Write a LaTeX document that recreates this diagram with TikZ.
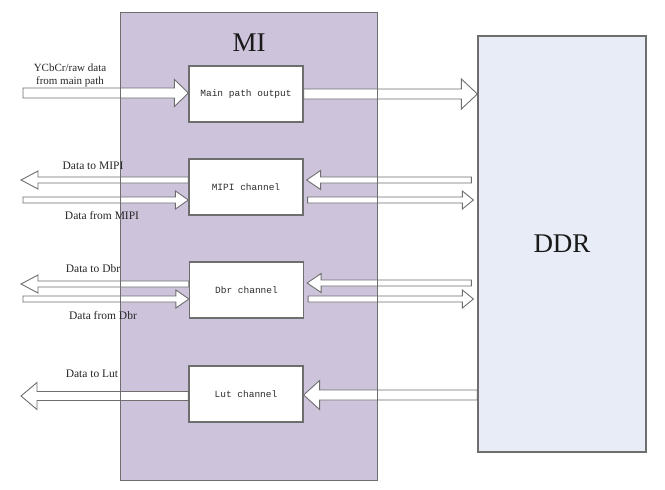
\documentclass[tikz,border=0pt]{standalone}
\usepackage{fontspec}
\setmainfont{Liberation Serif}
\newfontfamily\blockfont{Liberation Mono}
\usetikzlibrary{calc}

\definecolor{miFill}{RGB}{205,196,220}
\definecolor{ddrFill}{RGB}{232,236,246}
\definecolor{edgeGray}{RGB}{110,110,110}
\definecolor{textGray}{RGB}{45,45,45}

\tikzset{
  unitbox/.style={draw=edgeGray, line width=1.2pt, fill=white,
    minimum width=114pt, minimum height=56pt, inner sep=0pt,
    font=\blockfont\fontsize{9.5}{11}\selectfont, text=textGray},
  fatarrow/.style={draw=edgeGray, line width=0.9pt, fill=white, line join=miter},
  lbl/.style={font=\fontsize{11.5}{13}\selectfont, inner sep=0pt, text=black!85},
  bigtitle/.style={font=\fontsize{27}{30}\selectfont, inner sep=0pt, text=black!90},
}

% horizontal block arrow: tail, tip, half shaft width, half head width, head length
\newcommand\fatarrow[5]{%
  \draw[fatarrow] let \p1=(#1), \p2=(#2), \n1={#5*(2*(\x2>\x1)-1)} in
    (\x1,\y1+#3) -- (\x2-\n1*1pt,\y1+#3) -- (\x2-\n1*1pt,\y1+#4) -- (\x2,\y1)
    -- (\x2-\n1*1pt,\y1-#4) -- (\x2-\n1*1pt,\y1-#3) -- (\x1,\y1-#3) -- cycle;}

\begin{document}
\begin{tikzpicture}[x=1pt, y=-1pt]
\useasboundingbox (0,0) rectangle (665,490);

% module outlines
\node[fill=miFill, minimum width=256pt, minimum height=467pt, inner sep=0pt] (mi) at (249,246.5) {};
\node[draw=edgeGray, line width=1.2pt, fill=ddrFill, minimum width=168pt, minimum height=416pt,
      inner sep=0pt, bigtitle] (ddr) at (562,244) {DDR};
\node[bigtitle] (milabel) at (249,43) {MI};

% channel blocks
\node[unitbox] (main) at (246,94) {Main path output};
\node[unitbox] (mipi) at (246,187) {MIPI channel};
\node[unitbox] (dbr)  at (246.5,290) {Dbr channel};
\node[unitbox] (lut)  at (246,394) {Lut channel};

% outer ends of the data paths
\coordinate (srcMain)  at (23,93);
\coordinate (toMipi)   at (21,180);
\coordinate (fromMipi) at (23,200);
\coordinate (toDbr)    at (21,284);
\coordinate (fromDbr)  at (23,299);
\coordinate (toLut)    at (21,396);

% main path
\fatarrow{srcMain}{main.west}{5pt}{13.5pt}{14}
\fatarrow{main.east}{ddr.west}{5pt}{15pt}{16}

% MIPI channel
\fatarrow{$(mipi.west)+(0,-7)$}{toMipi}{3pt}{9pt}{17}
\fatarrow{fromMipi}{mipi.west}{3pt}{9pt}{13}
\fatarrow{$(ddr.west|-mipi.west)+(-6,-7)$}{$(mipi.east)+(3,0)$}{3pt}{9.5pt}{14}
\fatarrow{$(mipi.east)+(4,13)$}{$(ddr.west)+(-4,0)$}{3pt}{9pt}{11}

% Dbr channel
\fatarrow{$(dbr.west)+(0,-6)$}{toDbr}{3pt}{9pt}{17}
\fatarrow{fromDbr}{dbr.west}{3pt}{9pt}{13}
\fatarrow{$(ddr.west|-dbr.west)+(-6,-7)$}{$(dbr.east)+(3,0)$}{3pt}{9.5pt}{14}
\fatarrow{$(dbr.east)+(4,9)$}{$(ddr.west)+(-4,0)$}{3pt}{9pt}{11}

% Lut channel
\fatarrow{$(lut.west)+(0,2)$}{toLut}{4.5pt}{13.5pt}{16}
\fatarrow{$(ddr.west|-lut.west)+(0,1)$}{lut.east}{5pt}{14.5pt}{16}

% MI border on top of the paths
\draw[edgeGray, line width=1.2pt] (mi.north west) rectangle (mi.south east);

% path labels
\node[lbl, align=center, font=\fontsize{11}{13}\selectfont] (ycbcr) at (70,75.5) {YCbCr/raw data\\from main path};
\node[lbl] (lToMipi)   at (93,166)  {Data to MIPI};
\node[lbl] (lFromMipi) at (102,216) {Data from MIPI};
\node[lbl] (lToDbr)    at (93,269)  {Data to Dbr};
\node[lbl] (lFromDbr)  at (103,316) {Data from Dbr};
\node[lbl] (lToLut)    at (92,374)  {Data to Lut};
\end{tikzpicture}
\end{document}
